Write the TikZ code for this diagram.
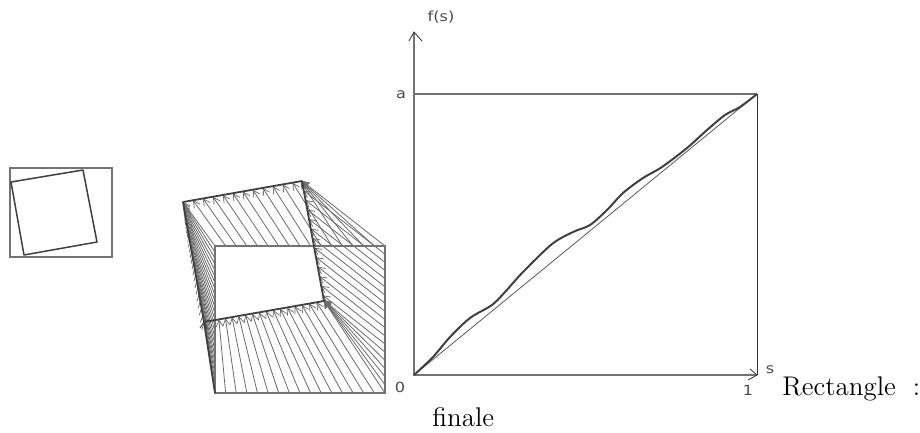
\documentclass[tikz,border=0pt]{standalone}
\usepackage{fontspec}
\newfontfamily\plotfont{DejaVu Sans}
\usetikzlibrary{calc,arrows.meta}
\definecolor{framegray}{gray}{0.45}
\definecolor{inkgray}{gray}{0.25}
\definecolor{hairgray}{gray}{0.42}
\tikzset{
  x=1pt,y=-1pt,
  frame/.style={draw=framegray,line width=1.5pt},
  ink/.style={draw=inkgray,line width=1.8pt,line join=round},
  hair/.style={draw=hairgray,line width=0.8pt,-{Straight Barb[length=6.5pt,width=7pt,line width=0.75pt]}},
  plotlabel/.style={font=\plotfont\fontsize{14}{15}\selectfont,text=black!70,inner sep=0pt,xscale=1.15,transform shape},
  bodytext/.style={inner sep=0pt,anchor=base west,scale=2.25,transform shape,font=\fontsize{12}{14}\selectfont}
}
\begin{document}
\begin{tikzpicture}
\useasboundingbox (0,0) rectangle (920,432);
% small picture
\coordinate (sa) at (10,168); \coordinate (sb) at (112,257);
\draw[frame] (sa) rectangle (sb);
\coordinate (s1) at (11,182); \coordinate (s2) at (83,170); \coordinate (s3) at (97,242); \coordinate (s4) at (24,255);
\draw[ink,line width=1.5pt] (s1) -- (s2) -- (s3) -- (s4) -- cycle;
% middle picture
\coordinate (Ra) at (215,393); \coordinate (Rb) at (385,393); \coordinate (Rc) at (385,246); \coordinate (Rd) at (215,246);
\coordinate (Qa) at (204,322); \coordinate (Qb) at (324,301); \coordinate (Qc) at (302,181); \coordinate (Qd) at (183,202);
% bottom side
\foreach \i in {1,...,16}{
  \pgfmathsetmacro\tr{\i/16}
  \pgfmathsetmacro\tq{\tr+0.07*(1-\tr)*(1-\tr)}
  \draw[hair] ($(Ra)!\tr!(Rb)$) -- ($(Qa)!\tq!(Qb)$);
}
% right side
\foreach \i in {1,...,18}{
  \pgfmathsetmacro\tr{\i/18}
  \pgfmathsetmacro\tq{max(0.03*\tr,(\tr-0.3)/0.7)}
  \draw[hair] ($(Rb)!\tr!(Rc)$) -- ($(Qb)!\tq!(Qc)$);
}
% top side
\foreach \i in {1,...,16}{
  \pgfmathsetmacro\tr{\i/16}
  \pgfmathsetmacro\tq{max(0.04*\tr,1-1.34*(1-\tr))}
  \draw[hair] ($(Rc)!\tr!(Rd)$) -- ($(Qc)!\tq!(Qd)$);
}
% left side
\foreach \i in {1,...,24}{
  \pgfmathsetmacro\tr{\i/24}
  \pgfmathsetmacro\tq{pow(\tr,1.5)}
  \draw[hair] ($(Rd)!\tr!(Ra)$) -- ($(Qd)!\tq!(Qa)$);
}
\draw[frame] (Ra) -- (Rb) -- (Rc) -- (Rd) -- cycle;
\draw[ink] (Qa) -- (Qb) -- (Qc) -- (Qd) -- cycle;
\draw[ink] (Ra) -- (Qa);
\draw[ink,line width=0.9pt] (Qa) -- +(-4,6) (Qa) -- +(3,7);
% plot
\coordinate (O) at (414,375); \coordinate (A) at (414,94); \coordinate (B) at (757,94); \coordinate (C) at (757,375); \coordinate (Y) at (414,32);
\draw[frame] (C) -- (O) -- (Y) (A) -- (B);
\draw[draw=black!80,line width=1pt] (B) -- (C);
\draw[draw=black!80,line width=0.8pt] (409,41) -- (Y) -- (422,41);
\draw[draw=black!80,line width=0.8pt] (750,369) -- (C) -- (748,380);
\draw[draw=black!65,line width=0.8pt] (O) -- (B);
\draw[draw=inkgray,line width=2pt,line join=round] plot[smooth,tension=0.5] coordinates {
 (414,375) (433,357) (450,337) (470,318) (492,305) (505,292) (523,272) (552,244) (573,232) (590,225)
 (607,210) (623,193) (643,178) (662,167) (687,148) (707,130) (725,115) (740,107) (757,94)};
\node[plotlabel] (fs) at (441,17) {f(s)};
\node[plotlabel] (la) at (401,95) {a};
\node[plotlabel] (l0) at (400,387) {0};
\node[plotlabel] (l1) at (748,390) {1};
\node[plotlabel] (ls) at (770,370) {s};
\node[bodytext] (rect) at (782,395) {Rectangle\hspace{7.5pt}:};
\node[bodytext] (fin) at (432,426) {finale};
\end{tikzpicture}
\end{document}
